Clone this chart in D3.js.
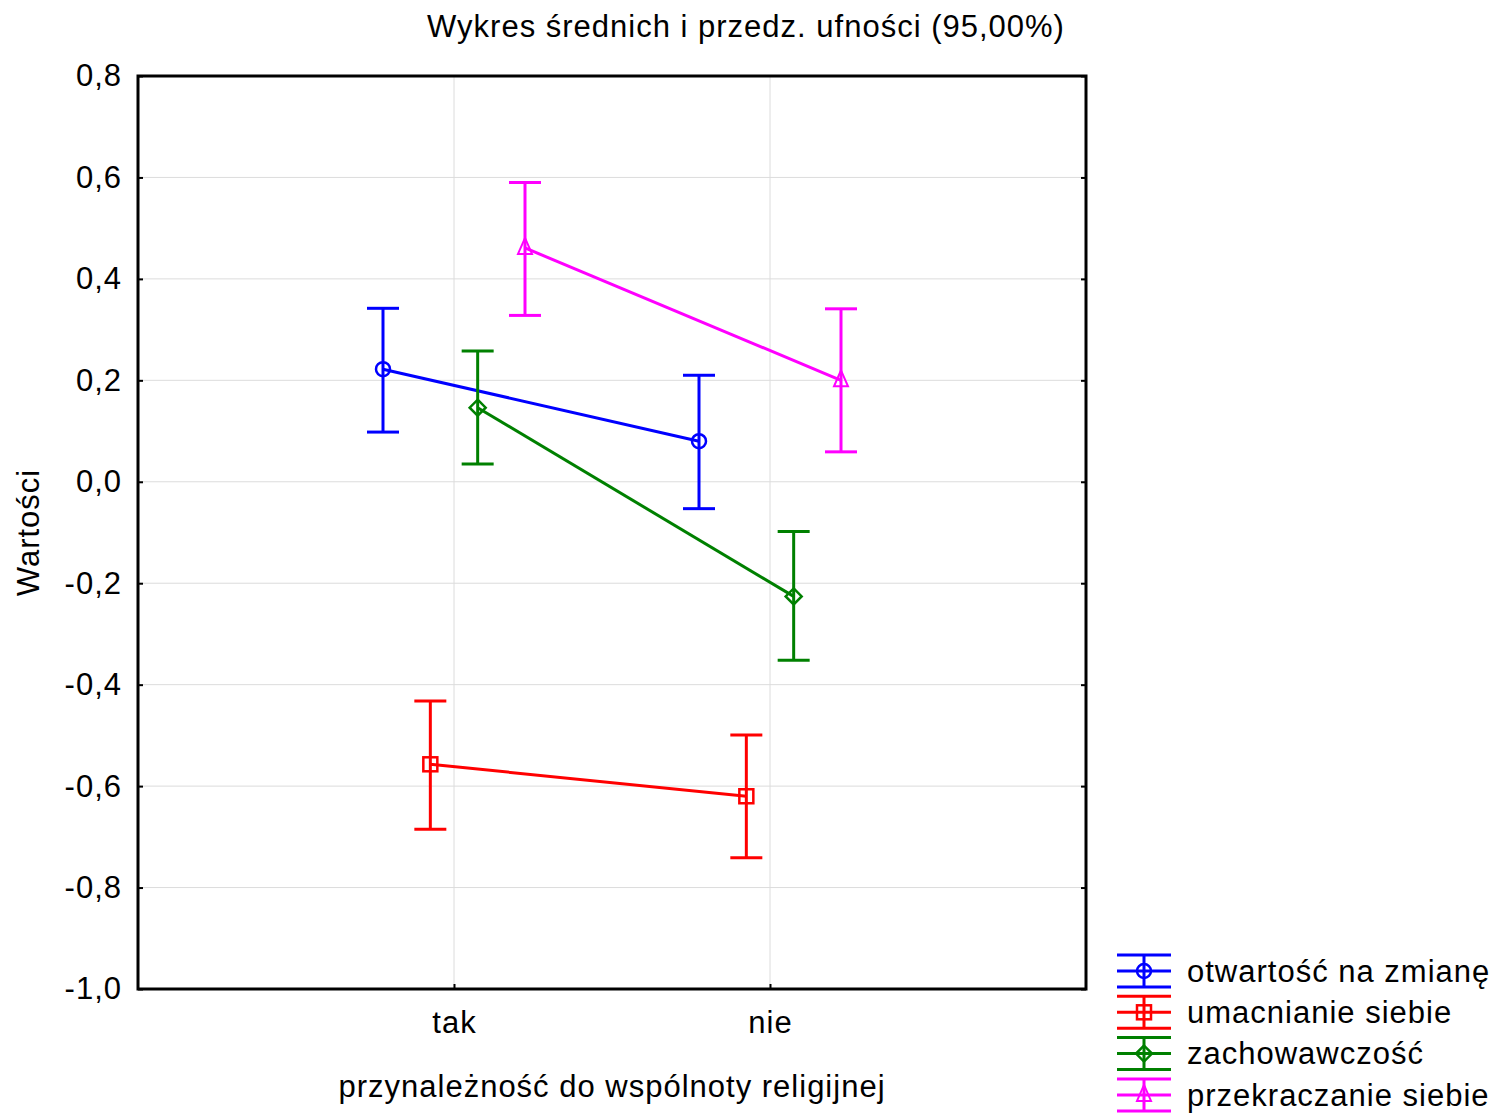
<!DOCTYPE html>
<html>
<head>
<meta charset="utf-8">
<script src="https://cdn.jsdelivr.net/npm/d3@7"></script>
<style>
  body { margin: 0; background: #fff; }
  svg { display: block; font-family: "Liberation Sans", Arial, sans-serif; }
  svg text { letter-spacing: 1px; }
</style>
</head>
<body>
<svg id="chart" width="1492" height="1113"></svg>
<script>
var categories = ['tak', 'nie'];
var seriesNames = ['otwartość na zmianę', 'umacnianie siebie', 'zachowawczość', 'przekraczanie siebie'];
var seriesColors = ['#0000ff', '#ff0000', '#008000', '#ff00ff'];
var seriesMarkers = ['circle', 'square', 'diamond', 'triangle'];

// means and 95% CI bounds, one entry per category (tak, nie)
var meanOtwartosc = [0.222, 0.080];
var lowOtwartosc = [0.098, -0.053];
var highOtwartosc = [0.342, 0.210];

var meanUmacnianie = [-0.557, -0.620];
var lowUmacnianie = [-0.685, -0.741];
var highUmacnianie = [-0.432, -0.499];

var meanZachowawczosc = [0.146, -0.226];
var lowZachowawczosc = [0.035, -0.352];
var highZachowawczosc = [0.258, -0.098];

var meanPrzekraczanie = [0.461, 0.200];
var lowPrzekraczanie = [0.328, 0.059];
var highPrzekraczanie = [0.590, 0.341];

var yTicks = [-1.0, -0.8, -0.6, -0.4, -0.2, 0.0, 0.2, 0.4, 0.6, 0.8];

var series = [
  {name: seriesNames[0], mean: meanOtwartosc, low: lowOtwartosc, high: highOtwartosc},
  {name: seriesNames[1], mean: meanUmacnianie, low: lowUmacnianie, high: highUmacnianie},
  {name: seriesNames[2], mean: meanZachowawczosc, low: lowZachowawczosc, high: highZachowawczosc},
  {name: seriesNames[3], mean: meanPrzekraczanie, low: lowPrzekraczanie, high: highPrzekraczanie}
];

var margin = {top: 76, left: 138},
  width = 948,
  height = 913;
var fontSize = 31;

var svg = d3.select('#chart');
var fmt = function(v) { return d3.format('.1f')(v).replace('.', ',').replace('−', '-'); };

var x = d3.scalePoint().domain(categories).range([0, width]).padding(1);
var offset = d3.scalePoint().domain(seriesNames).range([-71, 71]);
var y = d3.scaleLinear().domain([-1.0, 0.8]).range([height, 0]);
var color = d3.scaleOrdinal().domain(seriesNames).range(seriesColors);
var marker = d3.scaleOrdinal().domain(seriesNames).range(seriesMarkers);

var chart = svg.append('g')
  .attr('transform', 'translate(' + margin.left + ',' + margin.top + ')');

// grid
chart.append('g').selectAll('line.hgrid')
  .data(yTicks.slice(1, -1))
  .enter().append('line')
  .attr('x1', 0).attr('x2', width)
  .attr('y1', function(d) { return y(d); }).attr('y2', function(d) { return y(d); })
  .attr('stroke', '#dcdcdc').attr('stroke-width', 1);

chart.append('g').selectAll('line.vgrid')
  .data(categories)
  .enter().append('line')
  .attr('x1', function(d) { return x(d); }).attr('x2', function(d) { return x(d); })
  .attr('y1', 0).attr('y2', height)
  .attr('stroke', '#dcdcdc').attr('stroke-width', 1);

// axes
var yAxis = d3.axisLeft(y).tickValues(yTicks).tickSize(-5).tickPadding(16).tickFormat(fmt);
var gy = chart.append('g').call(yAxis);
gy.select('.domain').remove();
gy.selectAll('line').attr('stroke', '#000').attr('stroke-width', 2);
gy.selectAll('text').attr('font-size', fontSize).attr('fill', '#000');

var yAxisR = d3.axisRight(y).tickValues(yTicks).tickSize(-5).tickFormat('');
var gyr = chart.append('g').attr('transform', 'translate(' + width + ',0)').call(yAxisR);
gyr.select('.domain').remove();
gyr.selectAll('line').attr('stroke', '#000').attr('stroke-width', 2);

var xAxis = d3.axisBottom(x).tickSize(-5).tickPadding(22);
var gx = chart.append('g').attr('transform', 'translate(0,' + height + ')').call(xAxis);
gx.select('.domain').remove();
gx.selectAll('line').attr('stroke', '#000').attr('stroke-width', 2);
gx.selectAll('text').attr('font-size', fontSize).attr('fill', '#000');

// frame
chart.append('rect')
  .attr('x', 0).attr('y', 0).attr('width', width).attr('height', height)
  .attr('fill', 'none').attr('stroke', '#000').attr('stroke-width', 3);

function drawMarker(g, type, col) {
  if (type === 'circle') {
    g.append('circle').attr('r', 7).attr('fill', 'none').attr('stroke', col).attr('stroke-width', 2.5);
  } else if (type === 'square') {
    g.append('rect').attr('x', -7).attr('y', -7).attr('width', 14).attr('height', 14)
      .attr('fill', 'none').attr('stroke', col).attr('stroke-width', 2.5);
  } else if (type === 'diamond') {
    g.append('path').attr('d', 'M0,-8L8,0L0,8L-8,0Z')
      .attr('fill', 'none').attr('stroke', col).attr('stroke-width', 2.5);
  } else {
    g.append('path').attr('d', 'M0,-10L7,6L-7,6Z')
      .attr('fill', 'none').attr('stroke', col).attr('stroke-width', 2);
  }
}

var capHalf = 16;
series.forEach(function(s) {
  var col = color(s.name);
  var px = function(i) { return x(categories[i]) + offset(s.name); };
  var g = chart.append('g');

  g.append('path')
    .datum(s.mean)
    .attr('d', d3.line().x(function(d, i) { return px(i); }).y(function(d) { return y(d); }))
    .attr('fill', 'none').attr('stroke', col).attr('stroke-width', 3);

  categories.forEach(function(c, i) {
    var cx = px(i);
    g.append('line').attr('x1', cx).attr('x2', cx)
      .attr('y1', y(s.low[i])).attr('y2', y(s.high[i]))
      .attr('stroke', col).attr('stroke-width', 3);
    [s.low[i], s.high[i]].forEach(function(v) {
      g.append('line').attr('x1', cx - capHalf).attr('x2', cx + capHalf)
        .attr('y1', y(v)).attr('y2', y(v))
        .attr('stroke', col).attr('stroke-width', 3);
    });
    var m = g.append('g').attr('transform', 'translate(' + cx + ',' + y(s.mean[i]) + ')');
    drawMarker(m, marker(s.name), col);
  });
});

// titles
svg.append('text')
  .attr('x', 746).attr('y', 37)
  .attr('text-anchor', 'middle').attr('font-size', fontSize).attr('fill', '#000')
  .text('Wykres średnich i przedz. ufności (95,00%)');

svg.append('text')
  .attr('x', margin.left + width / 2).attr('y', 1097)
  .attr('text-anchor', 'middle').attr('font-size', fontSize).attr('fill', '#000')
  .text('przynależność do wspólnoty religijnej');

svg.append('text')
  .attr('transform', 'translate(39,' + (margin.top + height / 2) + ') rotate(-90)')
  .attr('text-anchor', 'middle').attr('font-size', fontSize).attr('fill', '#000')
  .text('Wartości');

// legend
var legend = svg.append('g').attr('transform', 'translate(1117,955)');
series.forEach(function(s, i) {
  var col = color(s.name);
  var row = legend.append('g').attr('transform', 'translate(0,' + (i * 41.3) + ')');
  [0, 16, 32].forEach(function(yy) {
    row.append('line').attr('x1', 0).attr('x2', 54).attr('y1', yy).attr('y2', yy)
      .attr('stroke', col).attr('stroke-width', 3);
  });
  row.append('line').attr('x1', 27).attr('x2', 27).attr('y1', 0).attr('y2', 32)
    .attr('stroke', col).attr('stroke-width', 3);
  var m = row.append('g').attr('transform', 'translate(27,16)');
  drawMarker(m, marker(s.name), col);
  row.append('text').attr('x', 70).attr('y', 16).attr('dy', '0.35em')
    .attr('font-size', fontSize).attr('fill', '#000')
    .text(s.name);
});
</script>
</body>
</html>
